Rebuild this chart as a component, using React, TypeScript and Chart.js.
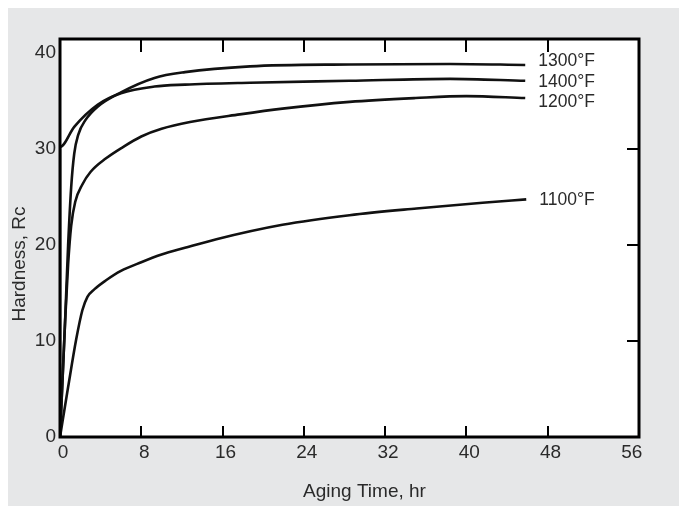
import React, { useEffect, useRef } from "react";
import { Chart, registerables } from "chart.js";

Chart.register(...registerables);

// ---- data ----
const xTickValues = [0, 8, 16, 24, 32, 40, 48, 56];
const yTickValues = [0, 10, 20, 30, 40];
const innerXTicks = [8, 16, 24, 32, 40, 48];
const rightYTicks = [10, 20, 30];

const seriesNames = ["1300°F", "1400°F", "1200°F", "1100°F"];

const time1300 = [0, 0.5, 0.8, 1.1, 1.4, 1.8, 2.5, 3.7, 6, 9.3, 12.3, 18.7, 28.5, 38.4, 45.8];
const hard1300 = [0, 12, 20, 26, 29.5, 31.5, 33, 34.4, 35.9, 37.4, 38.0, 38.6, 38.8, 38.85, 38.75];

const time1400 = [0, 0, 1.4, 3.7, 6, 9.3, 12.3, 18.7, 28.5, 38.4, 45.8];
const hard1400 = [0, 30.2, 32.3, 34.6, 35.8, 36.5, 36.7, 36.9, 37.1, 37.3, 37.1];

const time1200 = [0, 0.5, 0.8, 1.1, 1.5, 2.2, 3, 4.5, 6.2, 8, 10, 12.8, 17.7, 21.9, 28.5, 35, 40, 45.8];
const hard1200 = [0, 12, 18, 22, 24.5, 26.3, 27.6, 29.0, 30.2, 31.3, 32.1, 32.8, 33.6, 34.2, 34.9, 35.3, 35.5, 35.3];

const time1100 = [0, 0.8, 1.6, 2.2, 2.7, 3.4, 4.5, 6, 8, 10, 12.3, 15.4, 21.9, 28.5, 35.1, 41.6, 45.9];
const hard1100 = [0, 5.2, 10.2, 13.2, 14.6, 15.4, 16.3, 17.3, 18.2, 19.0, 19.7, 20.6, 22.1, 23.1, 23.8, 24.4, 24.75];

const seriesTimes = [time1300, time1400, time1200, time1100];
const seriesHard = [hard1300, hard1400, hard1200, hard1100];

// label pixel nudges (style)
const labelDy = [-3.6, 1.7, 4, 0.7];
const labelDx = 13;

const xTitle = "Aging Time, hr";
const yTitle = "Hardness, Rc";

const FONT = "'Liberation Sans', Arial, Helvetica, sans-serif";
const TEXT = "#2a2a2a";

export default function App() {
  const ref = useRef<HTMLCanvasElement | null>(null);

  useEffect(() => {
    if (!ref.current) return;

    const frame = {
      id: "frame",
      beforeDatasetsDraw(chart: any) {
        const { ctx, chartArea: a } = chart;
        ctx.save();
        ctx.fillStyle = "#ffffff";
        ctx.fillRect(a.left, a.top, a.right - a.left, a.bottom - a.top);
        ctx.restore();
      },
      afterDatasetsDraw(chart: any) {
        const { ctx, chartArea: a, scales } = chart;
        const xs = scales.x;
        const ys = scales.y;
        ctx.save();
        ctx.strokeStyle = "#000";
        ctx.lineWidth = 2;
        ctx.lineCap = "butt";
        innerXTicks.forEach((v) => {
          const px = Math.round(xs.getPixelForValue(v));
          ctx.beginPath();
          ctx.moveTo(px, a.bottom);
          ctx.lineTo(px, a.bottom - 11);
          ctx.moveTo(px, a.top);
          ctx.lineTo(px, a.top + 13);
          ctx.stroke();
        });
        rightYTicks.forEach((v) => {
          const py = Math.round(ys.getPixelForValue(v));
          ctx.beginPath();
          ctx.moveTo(a.right, py);
          ctx.lineTo(a.right - 12, py);
          ctx.stroke();
        });
        ctx.lineWidth = 3;
        ctx.strokeRect(a.left, a.top, a.right - a.left, a.bottom - a.top);

        // curve labels
        ctx.fillStyle = TEXT;
        ctx.font = `17.5px ${FONT}`;
        ctx.textAlign = "left";
        ctx.textBaseline = "middle";
        seriesNames.forEach((name, i) => {
          const t = seriesTimes[i];
          const h = seriesHard[i];
          const px = xs.getPixelForValue(t[t.length - 1]) + labelDx;
          const py = ys.getPixelForValue(h[h.length - 1]) + labelDy[i];
          ctx.fillText(name, px, py);
        });

        // axis titles
        ctx.font = `19px ${FONT}`;
        ctx.textAlign = "center";
        ctx.fillText(xTitle, (a.left + a.right) / 2 + 15, a.bottom + 55);
        ctx.save();
        ctx.translate(12, (a.top + a.bottom) / 2 + 26);
        ctx.rotate(-Math.PI / 2);
        ctx.fillText(yTitle, 0, 0);
        ctx.restore();
        ctx.restore();
      },
    };

    const chart = new Chart(ref.current, {
      type: "line",
      data: {
        datasets: seriesNames.map((name, i) => ({
          label: name,
          data: seriesTimes[i].map((t, j) => ({ x: t, y: seriesHard[i][j] })),
          borderColor: "#111",
          borderWidth: 2.6,
          pointRadius: 0,
          fill: false,
          cubicInterpolationMode: "monotone" as const,
        })),
      },
      options: {
        animation: false,
        responsive: true,
        maintainAspectRatio: false,
        layout: { padding: { left: 0, top: 31, right: 40, bottom: 0 } },
        plugins: { legend: { display: false }, tooltip: { enabled: false } },
        scales: {
          x: {
            type: "linear",
            min: 0,
            max: 57,
            afterBuildTicks: (s: any) => {
              s.ticks = xTickValues.map((v) => ({ value: v }));
            },
            afterFit: (s: any) => {
              s.height = 69;
            },
            grid: { display: false, drawTicks: false },
            border: { display: false },
            ticks: {
              color: TEXT,
              font: { family: FONT, size: 19 },
              padding: 4,
              labelOffset: 3,
              maxRotation: 0,
              autoSkip: false,
            },
          },
          y: {
            type: "linear",
            min: 0,
            max: 41.45,
            afterBuildTicks: (s: any) => {
              s.ticks = yTickValues.map((v) => ({ value: v }));
            },
            afterFit: (s: any) => {
              s.width = 52;
            },
            grid: { display: false, drawTicks: false },
            border: { display: false },
            ticks: {
              color: TEXT,
              font: { family: FONT, size: 19 },
              padding: 4,
            },
          },
        },
      },
      plugins: [frame],
    });

    return () => chart.destroy();
  }, []);

  return (
    <div
      style={{
        position: "fixed",
        left: 8,
        top: 8,
        width: 671,
        height: 498,
        background: "#e6e7e8",
      }}
    >
      <canvas ref={ref} />
    </div>
  );
}
